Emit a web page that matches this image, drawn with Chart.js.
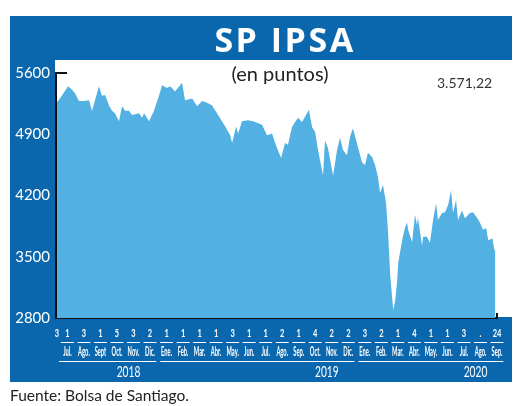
<!DOCTYPE html>
<html lang="es">
<head>
<meta charset="utf-8">
<script src="https://cdn.jsdelivr.net/npm/chart.js@4.4.1/dist/chart.umd.min.js"></script>
<style>
  body { margin: 0; width: 520px; height: 406px; background: #fff; position: relative; overflow: hidden; font-family: Lato, sans-serif; }
  #marco { position: absolute; left: 10px; top: 16px; width: 502px; height: 366px; background: #0b67ad; }
  #blanco { position: absolute; left: 55px; top: 60px; width: 465px; height: 257px; background: #fff; }
  #grafico { position: absolute; left: 0; top: 0; }
  #titulo { position: absolute; left: 60px; width: 450px; top: 16px; height: 44px; line-height: 46px; text-align: center; color: #fff; font: 700 34px "Open Sans", sans-serif; letter-spacing: 2.5px; }
  #unidad { position: absolute; left: 180px; width: 200px; top: 61px; line-height: 24px; text-align: center; color: #222; font-size: 20px; }
  #ultimo { position: absolute; left: 437px; top: 74px; line-height: 18px; color: #333; font-size: 14px; }
  #fuente { position: absolute; left: 10px; top: 386px; line-height: 18px; color: #222; font-size: 15.5px; }
</style>
</head>
<body>
<div id="marco"></div>
<div id="blanco"></div>
<canvas id="grafico" width="520" height="406"></canvas>
<div id="titulo">SP IPSA</div>
<div id="unidad">(en puntos)</div>
<div id="ultimo">3.571,22</div>
<div id="fuente">Fuente: Bolsa de Santiago.</div>
<script>
// posición en meses desde jul. 2018 (0 = jul. 2018) y valor del índice
const mes = [
  -0.63, -0.45, 0.04, 0.28, 0.46, 0.70, 1.00, 1.31, 1.49, 1.67,
  1.91, 2.09, 2.28, 2.52, 2.70, 2.88, 3.12, 3.31, 3.49, 3.73,
  3.91, 4.33, 4.52, 4.64, 4.94, 5.24, 5.54, 5.73, 6.03, 6.21,
  6.33, 6.51, 6.94, 7.12, 7.55, 7.85, 8.15, 8.46, 8.76, 9.12,
  9.55, 9.85, 9.97, 10.21, 10.33, 10.57, 10.93, 11.24, 11.78, 12.08,
  12.39, 12.57, 12.93, 13.17, 13.35, 13.59, 13.78, 13.96, 14.20, 14.38,
  14.62, 14.81, 14.99, 15.17, 15.47, 15.59, 15.77, 16.08, 16.32, 16.50,
  16.68, 16.92, 17.10, 17.28, 17.52, 17.83, 18.01, 18.19, 18.44, 18.62,
  18.80, 18.92, 19.10, 19.29, 19.41, 19.53, 19.65, 19.72, 19.84, 19.96,
  20.02, 20.26, 20.44, 20.56, 20.62, 20.86, 21.04, 21.16, 21.22, 21.46,
  21.53, 21.76, 21.94, 22.13, 22.31, 22.43, 22.67, 22.85, 23.04, 23.22,
  23.34, 23.52, 23.64, 23.88, 24.06, 24.36, 24.55, 24.78, 24.97, 25.15,
  25.34, 25.47, 25.72, 25.84, 25.90
];
const ipsa = [
  5270, 5310, 5450, 5410, 5370, 5280, 5280, 5290, 5170, 5290,
  5450, 5340, 5350, 5230, 5170, 5140, 5050, 5220, 5170, 5170,
  5120, 5140, 5090, 5140, 5050, 5170, 5340, 5460, 5430, 5450,
  5430, 5390, 5490, 5290, 5310, 5220, 5280, 5260, 5230, 5120,
  4990, 4890, 4800, 4990, 4910, 5050, 5060, 5050, 5010, 4890,
  4910, 4800, 4630, 4800, 4780, 4980, 5040, 5090, 5040, 5100,
  5180, 4980, 4930, 4720, 4430, 4830, 4740, 4430, 4720, 4860,
  4720, 4660, 4870, 4970, 4800, 4580, 4550, 4690, 4640, 4550,
  4410, 4230, 4320, 4110, 3770, 3310, 3040, 2890, 3000, 3230,
  3430, 3690, 3840, 3890, 3810, 3670, 3980, 3860, 3950, 3630,
  3730, 3730, 3660, 3920, 4110, 3920, 4000, 4010, 4090, 4260,
  4000, 4150, 3920, 4030, 3940, 4000, 4010, 3950, 3890, 3810,
  3830, 3690, 3710, 3580, 3571.22
];

const meses = ["Jul.", "Ago.", "Sept", "Oct.", "Nov.", "Dic.",
  "Ene.", "Feb.", "Mar.", "Abr.", "May.", "Jun.", "Jul.", "Ago.", "Sep.", "Oct.", "Nov.", "Dic.",
  "Ene.", "Feb.", "Mar.", "Abr.", "May.", "Jun.", "Jul.", "Ago.", "Sep."];
const dias = ["1", "3", "1", "5", "3", "2",
  "1", "1", "1", "1", "3", "1", "1", "2", "1", "4", "2", "2",
  "3", "2", "1", "4", "1", "1", "3", ".", "24"];
const diaInicio = "3";
const anios = ["2018", "2019", "2020"];
const primerMes = [0, 6, 18]; // índice en meses donde empieza cada año
const etiquetasY = [2800, 3500, 4200, 4900, 5600];

const BLANCO = "#fff";
const NEGRO = "#111";

function textoAngosto(ctx, txt, x, y, escala) {
  ctx.save();
  ctx.translate(x, y);
  ctx.scale(escala, 1);
  ctx.fillText(txt, 0, 0);
  ctx.restore();
}

// ejes de fechas y marcas del periódico
const ejeFechas = {
  id: "ejeFechas",
  afterDraw(chart) {
    const ctx = chart.ctx;
    const xs = chart.scales.x;
    const area = chart.chartArea;
    ctx.save();

    // esquinas negras
    ctx.strokeStyle = NEGRO;
    ctx.lineWidth = 2;
    ctx.beginPath();
    ctx.moveTo(area.left, area.top);
    ctx.lineTo(area.left + 11, area.top);
    ctx.moveTo(area.right, area.bottom);
    ctx.lineTo(area.right, area.bottom - 5);
    ctx.stroke();

    ctx.fillStyle = BLANCO;
    ctx.strokeStyle = BLANCO;
    ctx.lineWidth = 1;
    ctx.textAlign = "center";
    ctx.textBaseline = "middle";

    ctx.font = "bold 12px Lato";
    textoAngosto(ctx, diaInicio, xs.getPixelForValue(mes[0]), 333, 0.62);
    meses.forEach((m, k) => {
      const x = xs.getPixelForValue(k);
      ctx.font = "bold 12px Lato";
      textoAngosto(ctx, dias[k], x, 333, 0.62);
      ctx.beginPath();
      ctx.moveTo(x - 6.5, 342.5);
      ctx.lineTo(x + 6.5, 342.5);
      ctx.stroke();
      ctx.font = "bold 12.5px Lato";
      textoAngosto(ctx, m, x, 352, 0.46);
    });

    ctx.font = "15px Lato";
    anios.forEach((a, i) => {
      const desde = i === 0 ? mes[0] : primerMes[i] - 0.5;
      const ultimo = i + 1 < anios.length ? primerMes[i + 1] - 1 : meses.length - 1;
      const x1 = xs.getPixelForValue(desde) + 2;
      const x2 = xs.getPixelForValue(ultimo + 0.5) - 2;
      ctx.beginPath();
      ctx.moveTo(x1, 361.5);
      ctx.lineTo(x2, 361.5);
      ctx.stroke();
      textoAngosto(ctx, a, xs.getPixelForValue(ultimo - 1.3), 372, 0.68);
    });
    ctx.restore();
  }
};

const puntos = mes.map((m, i) => ({ x: m, y: ipsa[i] }));

new Chart(document.getElementById("grafico").getContext("2d"), {
  type: "line",
  data: {
    datasets: [{
      data: puntos,
      fill: "start",
      backgroundColor: "#52b1e2",
      borderWidth: 0,
      pointRadius: 0,
      tension: 0
    }]
  },
  options: {
    responsive: false,
    animation: false,
    layout: { padding: { top: 73, right: 23, left: 0, bottom: 0 } },
    plugins: { legend: { display: false }, tooltip: { enabled: false } },
    scales: {
      x: {
        type: "linear",
        min: -0.69,
        max: 26.0,
        grid: { display: false, drawTicks: false },
        border: { display: true, color: NEGRO, width: 2 },
        ticks: { display: false },
        afterFit: (s) => { s.height = 88; }
      },
      y: {
        min: 2800,
        max: 5600,
        afterBuildTicks: (s) => { s.ticks = etiquetasY.map((v) => ({ value: v })); },
        ticks: {
          color: BLANCO,
          font: { family: "Lato", size: 15 },
          padding: 6,
          callback: (v) => String(v)
        },
        grid: { display: false, drawTicks: false },
        border: { display: true, color: NEGRO, width: 2 },
        afterFit: (s) => { s.width = 56; }
      }
    }
  },
  plugins: [ejeFechas]
});
</script>
</body>
</html>
